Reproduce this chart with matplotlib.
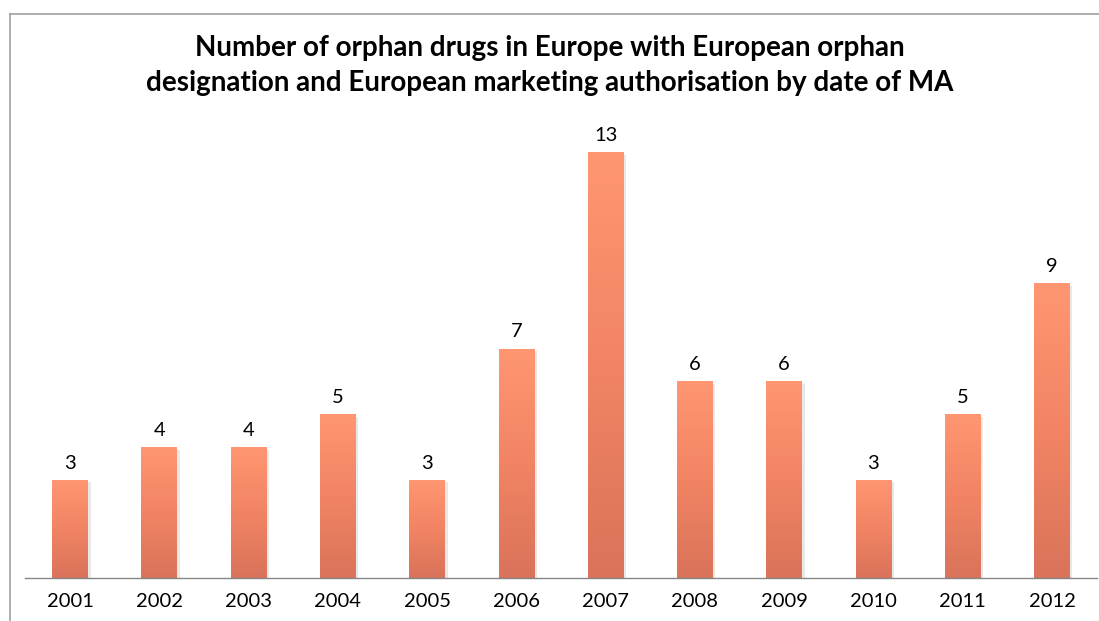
import matplotlib.pyplot as plt
import numpy as np
from matplotlib.colors import LinearSegmentedColormap

years = ['2001', '2002', '2003', '2004', '2005', '2006',
         '2007', '2008', '2009', '2010', '2011', '2012']
counts = [3, 4, 4, 5, 3, 7, 13, 6, 6, 3, 5, 9]

W, H = 1099, 621
fig = plt.figure(figsize=(W / 100, H / 100), dpi=100)
fig.patch.set_facecolor('white')

# axes placed in pixel terms: x axis line at y=578, 13 units ~ 426px
ax_left, ax_right = 25.4, 1096.6
ax_bottom = 578
unit = (578 - 152) / 13
ymax = 14
ax_top = ax_bottom - ymax * unit
ax = fig.add_axes([ax_left / W, 1 - ax_bottom / H,
                   (ax_right - ax_left) / W, (ax_bottom - ax_top) / H])

x = np.arange(len(years))
width = 0.4

# soft shadow behind bars
ax.bar(x + 0.03, counts, width, bottom=-0.08, color='#000000', alpha=0.09,
       zorder=1, linewidth=0)

bars = ax.bar(x, counts, width, color='none', zorder=2, linewidth=0)

cmap = LinearSegmentedColormap.from_list('orange', ['#d9735a', '#f28463', '#ff9672'])
grad = np.linspace(0, 1, 256).reshape(-1, 1)
for b in bars:
    bx, by = b.get_x(), b.get_y()
    bw, bh = b.get_width(), b.get_height()
    im = ax.imshow(grad, cmap=cmap, aspect='auto', origin='lower',
                   extent=[bx, bx + bw, by, by + bh], zorder=3)
    im.set_clip_path(b)

for xi, v in zip(x, counts):
    ax.text(xi, v + 0.25, str(v), ha='center', va='bottom',
            fontsize=14.5, family='Lato', color='#000000')

ax.set_xlim(-0.5, len(years) - 0.5)
ax.set_ylim(0, ymax)
ax.set_xticks(x)
ax.set_xticklabels(years, fontsize=14.5, family='Lato')
ax.tick_params(axis='x', length=0, pad=11)
ax.set_yticks([])
for s in ['left', 'right', 'top']:
    ax.spines[s].set_visible(False)
ax.spines['bottom'].set_color('#868686')
ax.spines['bottom'].set_linewidth(1)
ax.spines['bottom'].set_zorder(5)
ax.set_facecolor('none')

fig.text(0.5, 1 - 48 / H, 'Number of orphan drugs in Europe with European orphan',
         ha='center', va='center', fontsize=20, fontweight='bold', family='Lato')
fig.text(0.5, 1 - 83 / H, 'designation and European marketing authorisation by date of MA',
         ha='center', va='center', fontsize=20, fontweight='bold', family='Lato')

# chart area border (left and top edges visible)
fig.add_artist(plt.Line2D([9.5 / W, 9.5 / W], [0, 1 - 13.5 / H], color='#a0a0a0', lw=1.2))
fig.add_artist(plt.Line2D([9.5 / W, 1], [1 - 13.5 / H, 1 - 13.5 / H], color='#a0a0a0', lw=1.2))

fig.savefig('out.png', dpi=100)
